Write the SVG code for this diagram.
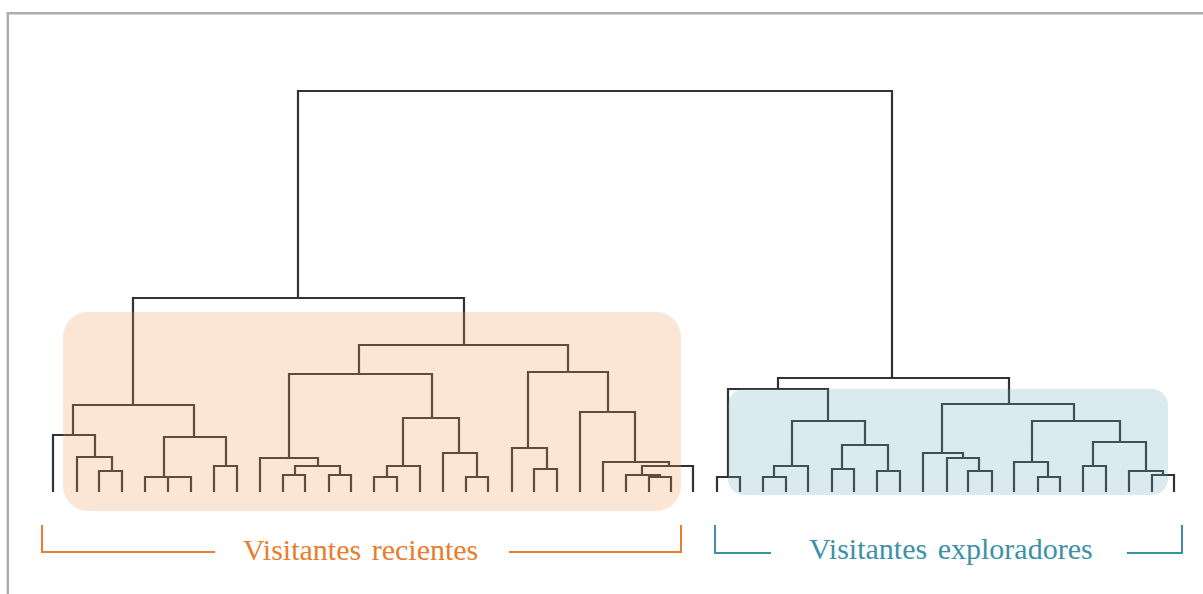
<svg xmlns="http://www.w3.org/2000/svg" width="1203" height="594" viewBox="0 0 1203 594">
<style>
.frame{fill:none;stroke:#adadad;stroke-width:2.5}
.tree{fill:none;stroke:#323232;stroke-width:2.2;stroke-linejoin:miter;stroke-linecap:square}
.ob{fill:#ef9753;fill-opacity:0.25}
.bb{fill:#6babbb;fill-opacity:0.25}
.lbl{font-family:"Liberation Serif","Times New Roman",serif;font-size:30px;word-spacing:3px}
.ol{fill:none;stroke:#e87d2e;stroke-width:2}
.bl{fill:none;stroke:#3d91a6;stroke-width:2}
</style>
<rect width="1203" height="594" fill="#ffffff"/>
<path class="frame" d="M7.8 594 V13.2 H1203"/>
<g id="connectors">
<path class="tree" d="M298 298 V91 H892 V378
M133 405 V298 H464 V345
M73 435 V405 H194 V437
M53 491 V435 H95 V457
M77 491 V457 H112 V471
M99 491 V471 H122 V491
M164 477 V437 H226 V466
M145 491 V477 H191 V491 M168 477 V491
M214 491 V466 H237 V491
M359 374 V345 H568 V372
M289 458 V374 H432 V418
M260 491 V458 H318 V466
M295 475 V466 H340 V475
M283 491 V475 H305 V491
M329 491 V475 H351 V491
M403 466 V418 H459 V453
M387 477 V466 H420 V491
M374 491 V477 H397 V491
M443 491 V453 H477 V477
M466 491 V477 H488 V491
M528 448 V372 H608 V412
M512 491 V448 H547 V469
M534 491 V469 H557 V491
M580 491 V412 H635 V462
M603 491 V462 H669 V466
M642 475 V466 H693 V491
M626 491 V475 H660 V477
M649 491 V477 H671 V491
M778 389 V378 H1009 V404
M728 477 V389 H828 V421
M717 491 V477 H740 V491
M792 466 V421 H865 V445
M774 477 V466 H808 V491
M763 491 V477 H786 V491
M842 469 V445 H888 V471
M832 491 V469 H854 V491
M877 491 V471 H900 V491
M942 453 V404 H1074 V421
M923 491 V453 H963 V458
M947 491 V458 H979 V471
M968 491 V471 H992 V491
M1032 462 V421 H1120 V442
M1014 491 V462 H1048 V477
M1038 491 V477 H1060 V491
M1093 466 V442 H1146 V471
M1083 491 V466 H1106 V491
M1129 491 V471 H1163 V475
M1152 491 V475 H1174 V491"/>
</g>
<g id="cluster-recientes">
<rect class="ob" x="63" y="312" width="618" height="199" rx="25"/>
<path class="ol" d="M42 525 V552 H215 M509 552 H681 V525"/>
<text class="lbl" x="243" y="560" fill="#e87d2e">Visitantes recientes</text>
</g>
<g id="cluster-exploradores">
<rect class="bb" x="728" y="389" width="440" height="106" rx="16"/>
<path class="bl" d="M715 525 V553 H771 M1127 553 H1182 V525"/>
<text class="lbl" x="809" y="559" fill="#3d91a6">Visitantes exploradores</text>
</g>
</svg>
